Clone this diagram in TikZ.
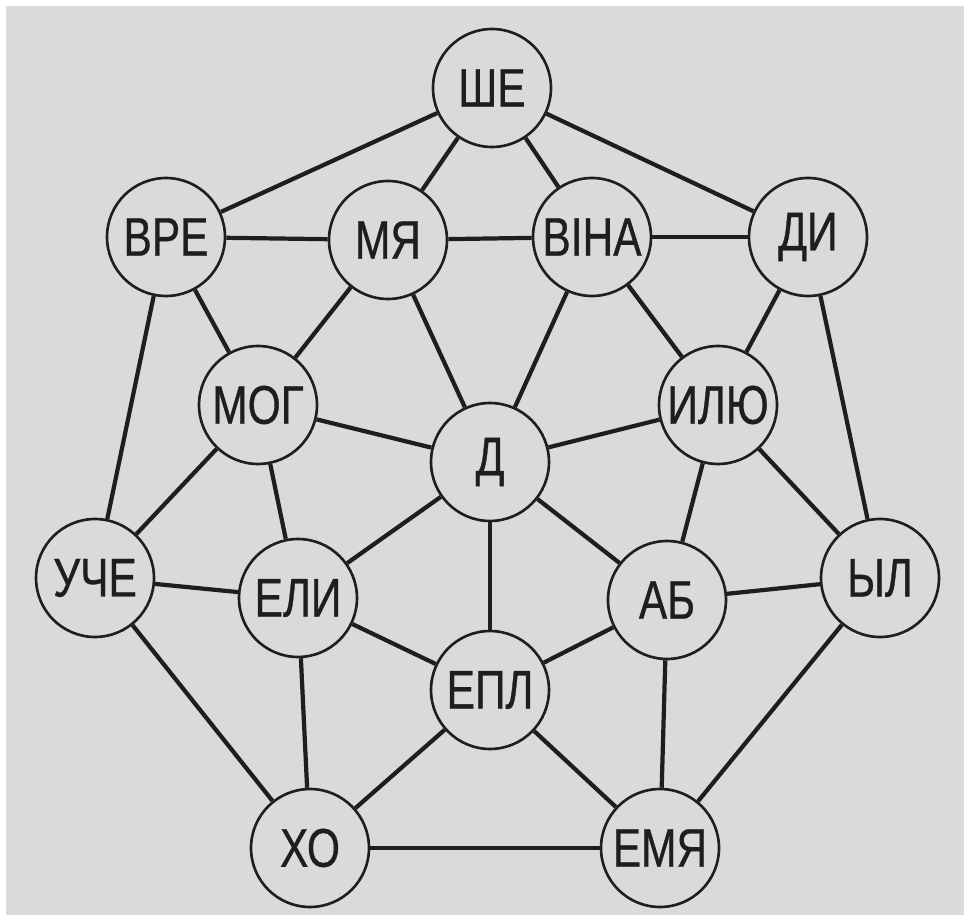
\documentclass[tikz,border=0pt]{standalone}
\usepackage{fontspec}
\setmainfont{Liberation Sans}[FakeStretch=0.78,FakeBold=0.6]
\definecolor{bg}{RGB}{218,218,218}
\definecolor{ink}{RGB}{30,30,30}
\begin{document}
\begin{tikzpicture}[x=0.02cm,y=-0.02cm,
  vtx/.style={circle,draw=ink,line width=1.5pt,fill=bg,minimum size=2.36cm,inner sep=0pt,
    text=ink,font=\fontsize{31}{31}\selectfont},
  link/.style={draw=ink,line width=2.4pt}]
\fill[white] (0,0) rectangle (964,915);
\fill[bg] (6,6) rectangle (964,915);
\useasboundingbox (0,0) rectangle (964,915);
\node[vtx] (she)  at (492,88)  {ШЕ};
\node[vtx] (vre)  at (166,237) {ВРЕ};
\node[vtx] (mya)  at (388,240) {МЯ};
\node[vtx] (vina) at (592,237) {ВІНА};
\node[vtx] (di)   at (808,237) {ДИ};
\node[vtx] (mog)  at (258,405) {МОГ};
\node[vtx] (d)    at (490,462) {Д};
\node[vtx] (ilyu) at (718,405) {ИЛЮ};
\node[vtx] (uche) at (95,578)  {УЧЕ};
\node[vtx] (eli)  at (298,598) {ЕЛИ};
\node[vtx] (ab)   at (667,600) {АБ};
\node[vtx] (yl)   at (880,578) {ЫЛ};
\node[vtx] (epl)  at (490,690) {ЕПЛ};
\node[vtx] (kho)  at (310,848) {ХО};
\node[vtx] (emya) at (660,848) {ЕМЯ};
\foreach \a/\b in {she/vre,she/mya,she/vina,she/di,vre/mya,mya/vina,vina/di,
  vre/mog,vre/uche,mya/mog,mya/d,vina/d,vina/ilyu,di/ilyu,di/yl,
  mog/d,mog/uche,mog/eli,d/ilyu,d/eli,d/epl,d/ab,ilyu/ab,ilyu/yl,
  uche/eli,uche/kho,eli/epl,eli/kho,ab/epl,ab/yl,ab/emya,
  epl/kho,epl/emya,yl/emya,kho/emya}
  \draw[link] (\a) -- (\b);
\end{tikzpicture}
\end{document}
